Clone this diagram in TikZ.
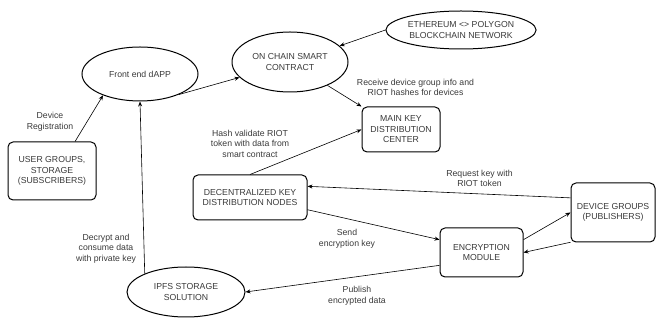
\documentclass[tikz,border=0pt]{standalone}
\usepackage{fontspec}
\setmainfont{Liberation Sans}
\usetikzlibrary{shapes.geometric,arrows.meta}
\definecolor{txt}{HTML}{3A3A3A}
\tikzset{
 base/.style={draw=black, line width=1pt, text=txt, font=\fontsize{8.7}{10.5}\selectfont, align=center, inner sep=0pt},
 oval/.style={base, ellipse},
 box/.style={base, rectangle, rounded corners=5pt},
 lbl/.style={text=txt, font=\fontsize{8.7}{10.5}\selectfont, align=center, inner sep=0pt},
 conn/.style={line width=0.6pt, -{Stealth[length=5pt,width=4pt]}},
}
\begin{document}
\begin{tikzpicture}[x=1pt,y=-1pt]
\useasboundingbox (0,0) rectangle (656,320);
\node[oval, minimum width=116, minimum height=54] (fe) at (140,74) {Front end dAPP};
\node[oval, minimum width=116, minimum height=60] (sc) at (290,62) {ON CHAIN SMART\\CONTRACT};
\node[oval, minimum width=138, minimum height=38] (eth) at (461,30) {ETHEREUM <> POLYGON\\BLOCKCHAIN NETWORK};
\node[box, minimum width=78, minimum height=45] (mk) at (401,129.5) {MAIN KEY\\DISTRIBUTION\\CENTER};
\node[box, minimum width=88, minimum height=58] (ug) at (52,171) {USER GROUPS,\\STORAGE\\(SUBSCRIBERS)};
\node[box, minimum width=114, minimum height=45] (dk) at (250,197.5) {DECENTRALIZED KEY\\DISTRIBUTION NODES};
\node[oval, minimum width=118, minimum height=50] (ip) at (186,292) {IPFS STORAGE\\SOLUTION};
\node[box, minimum width=83, minimum height=49] (en) at (481.5,252.5) {ENCRYPTION\\MODULE};
\node[box, minimum width=84, minimum height=59] (dg) at (613,212.5) {DEVICE GROUPS\\(PUBLISHERS)};

\draw[conn] (ug.52) -- (fe.210);
\draw[conn] (fe.332) -- (sc.197);
\draw[conn] (eth.west) -- (sc.18);
\draw[conn] (sc.328) -- (mk.north west);
\draw[conn] (dk.north) -- (mk.west);
\draw[conn] (ip.156) -- (fe.south);
\draw[conn] (dg.161) -- (dk.11);
\draw[conn] (dk.348) -- (en.163);
\draw[conn] (en.17) -- (dg.180);
\draw[conn] (dg.215) -- (en.east);
\draw[conn] (en.197) -- (ip.east);

\node[lbl] (l1) at (50,122) {Device\\Registration};
\node[lbl] (l2) at (415.5,87.5) {Receive device group info and\\RIOT hashes for devices};
\node[lbl] (l3) at (250,143.5) {Hash validate RIOT\\token with data from\\smart contract};
\node[lbl] (l4) at (106,248.5) {Decrypt and\\consume data\\with private key};
\node[lbl] (l5) at (479.5,178.5) {Request key with\\RIOT token};
\node[lbl] (l6) at (347,239) {Send\\encryption key};
\node[lbl] (l7) at (357,296) {Publish\\encrypted data};
\end{tikzpicture}
\end{document}
